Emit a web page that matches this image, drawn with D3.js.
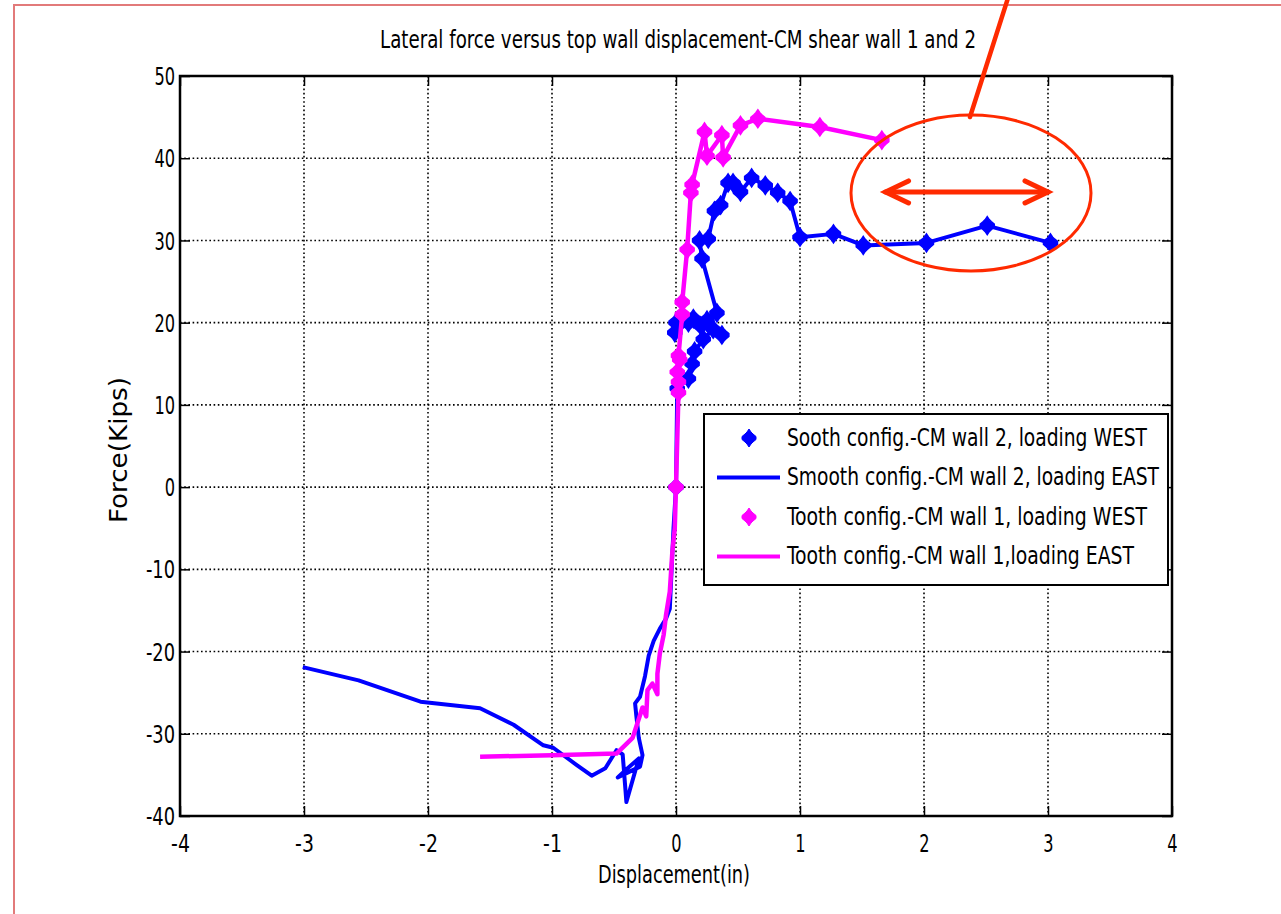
<!DOCTYPE html>
<html>
<head>
<meta charset="utf-8">
<script src="https://cdn.jsdelivr.net/npm/d3@7"></script>
<style>
  body { margin: 0; background: #fff; }
  svg { display: block; }
  text { font-family: "Liberation Sans Narrow", "Arial Narrow", "DejaVu Sans Condensed", sans-serif; fill: #000; }
</style>
</head>
<body>
<script>
// Axis ticks
const xTicks = [-4, -3, -2, -1, 0, 1, 2, 3, 4];
const yTicks = [-40, -30, -20, -10, 0, 10, 20, 30, 40, 50];

// Wall 2 (smooth configuration), loading WEST: [displacement in, force kips]
const wall2West = [
  [0.00, 0.0], [0.01, 12.0], [0.10, 13.2], [0.13, 15.0], [0.15, 16.5], [0.22, 18.0],
  [0.30, 19.2], [0.37, 18.5], [0.20, 19.6], [0.14, 20.5], [0.00, 20.0], [-0.01, 18.8],
  [0.10, 20.0], [0.25, 20.3], [0.33, 21.2], [0.21, 27.8], [0.19, 30.0], [0.26, 30.2],
  [0.31, 33.6], [0.36, 34.3], [0.42, 37.0], [0.46, 37.0], [0.52, 35.9], [0.61, 37.6],
  [0.72, 36.7], [0.82, 35.8], [0.92, 34.8], [1.00, 30.4], [1.27, 30.8], [1.51, 29.4],
  [2.02, 29.7], [2.51, 31.8], [3.02, 29.7]
];

// Wall 2 (smooth configuration), loading EAST
const wall2East = [
  [0.00, 0.0], [-0.02, -5.0], [-0.05, -14.8], [-0.08, -16.0], [-0.13, -17.2], [-0.18, -18.7],
  [-0.22, -20.5], [-0.25, -23.0], [-0.29, -25.5], [-0.33, -26.3], [-0.32, -27.8], [-0.30, -30.5],
  [-0.27, -32.6], [-0.29, -34.0], [-0.47, -35.3], [-0.42, -34.6], [-0.30, -33.0], [-0.40, -38.3],
  [-0.43, -32.5], [-0.48, -32.0], [-0.57, -34.2], [-0.68, -35.1], [-0.80, -33.8], [-0.99, -31.7],
  [-1.07, -31.4], [-1.31, -28.9], [-1.58, -26.9], [-2.06, -26.1], [-2.56, -23.5], [-3.01, -21.9]
];

// Wall 1 (tooth configuration), loading WEST
const wall1West = [
  [0.00, 0.0], [0.02, 11.5], [0.02, 12.8], [0.01, 14.0], [0.03, 15.5], [0.02, 16.0],
  [0.05, 21.0], [0.05, 22.5], [0.09, 28.9], [0.12, 35.8], [0.13, 36.8], [0.23, 43.2],
  [0.25, 40.3], [0.37, 42.8], [0.38, 40.1], [0.52, 44.0], [0.66, 44.8], [1.16, 43.8],
  [1.66, 42.2]
];

// Wall 1 (tooth configuration), loading EAST
const wall1East = [
  [0.00, 0.0], [-0.01, -5.0], [-0.03, -8.0], [-0.05, -12.7], [-0.08, -15.5], [-0.10, -18.0],
  [-0.13, -20.2], [-0.15, -22.7], [-0.15, -25.2], [-0.19, -23.9], [-0.23, -24.7], [-0.24, -27.9],
  [-0.27, -26.8], [-0.35, -30.5], [-0.48, -32.4], [-1.00, -32.6], [-1.58, -32.8]
];

const legendLabels = [
  "Sooth config.-CM wall 2, loading WEST",
  "Smooth config.-CM wall 2, loading EAST",
  "Tooth config.-CM wall 1, loading WEST",
  "Tooth config.-CM wall 1,loading EAST"
];

const BLUE = "#0000ff";
const MAGENTA = "#ff00ff";
const RED = "#ff2a00";

const W = 1281, H = 914;
const plot = { left: 180, right: 1172, top: 76, bottom: 816 };

const svg = d3.select("body").append("svg").attr("width", W).attr("height", H);

// page frame
svg.append("path")
  .attr("d", `M${W},5 H14 V${H}`)
  .attr("fill", "none").attr("stroke", "#e27a7a").attr("stroke-width", 2);

const x = d3.scaleLinear().domain([-4, 4]).range([plot.left, plot.right]);
const y = d3.scaleLinear().domain([-40, 50]).range([plot.bottom, plot.top]);

// dotted grid
const grid = svg.append("g").attr("stroke", "#000").attr("stroke-width", 1.6).attr("stroke-dasharray", "1.6,2.6");
grid.selectAll(".gx").data(xTicks.slice(1, -1)).join("line")
  .attr("x1", d => x(d)).attr("x2", d => x(d)).attr("y1", plot.top).attr("y2", plot.bottom);
grid.selectAll(".gy").data(yTicks.slice(1, -1)).join("line")
  .attr("y1", d => y(d)).attr("y2", d => y(d)).attr("x1", plot.left).attr("x2", plot.right);

// axes with inward ticks
const fmt = d => (d < 0 ? "-" : "") + Math.abs(d);
function labelWidth(s) { let w = 0; for (const c of s) w += c === "-" ? 8.5 : 10.3; return w; }

const xBottom = svg.append("g").attr("transform", `translate(0,${plot.bottom})`)
  .call(d3.axisBottom(x).tickValues(xTicks).tickFormat(fmt).tickSizeInner(-10).tickSizeOuter(0).tickPadding(19));
const xTop = svg.append("g").attr("transform", `translate(0,${plot.top})`)
  .call(d3.axisTop(x).tickValues(xTicks).tickFormat("").tickSizeInner(-10).tickSizeOuter(0));
const yLeft = svg.append("g").attr("transform", `translate(${plot.left},0)`)
  .call(d3.axisLeft(y).tickValues(yTicks).tickFormat(fmt).tickSizeInner(-10).tickSizeOuter(0).tickPadding(-5));
const yRight = svg.append("g").attr("transform", `translate(${plot.right},0)`)
  .call(d3.axisRight(y).tickValues(yTicks).tickFormat("").tickSizeInner(-10).tickSizeOuter(0));

[xBottom, xTop, yLeft, yRight].forEach(g => {
  g.select(".domain").remove();
  g.selectAll(".tick line").attr("stroke", "#000").attr("stroke-width", 1.5);
});
[xBottom, yLeft].forEach(g => {
  g.selectAll(".tick text")
    .attr("font-size", 24)
    .attr("font-family", null)
    .attr("fill", "#000")
    .attr("lengthAdjust", "spacingAndGlyphs")
    .attr("textLength", d => labelWidth(fmt(d)));
});
yLeft.selectAll(".tick text").attr("x", -5).attr("dy", "0.36em");
xBottom.selectAll(".tick text").attr("dy", "0.72em");

// plot box
svg.append("rect")
  .attr("x", plot.left).attr("y", plot.top)
  .attr("width", plot.right - plot.left).attr("height", plot.bottom - plot.top)
  .attr("fill", "none").attr("stroke", "#000").attr("stroke-width", 2.5);

// titles
svg.append("text").attr("x", 678).attr("y", 48).attr("text-anchor", "middle")
  .attr("font-size", 25).attr("textLength", 596).attr("lengthAdjust", "spacingAndGlyphs")
  .text("Lateral force versus top wall displacement-CM shear wall 1 and 2");
svg.append("text").attr("x", 674).attr("y", 883).attr("text-anchor", "middle")
  .attr("font-size", 25).attr("textLength", 152).attr("lengthAdjust", "spacingAndGlyphs")
  .text("Displacement(in)");
svg.append("text").attr("transform", "translate(127,450) rotate(-90)").attr("text-anchor", "middle")
  .attr("font-size", 25).attr("textLength", 146).attr("lengthAdjust", "spacingAndGlyphs")
  .text("Force(Kips)");

// data
const line = d3.line().x(d => x(d[0])).y(d => y(d[1]));
const marker = "M0,-9 L2,-6 L4,-4 L7,-1.5 V1.5 L4,4 L2,6 L0,9 L-2,6 L-4,4 L-7,1.5 V-1.5 L-4,-4 L-2,-6 Z";

function drawSeries(data, color, withMarkers, width) {
  svg.append("path").datum(data).attr("d", line)
    .attr("fill", "none").attr("stroke", color).attr("stroke-width", width)
    .attr("stroke-linejoin", "round");
  if (withMarkers) {
    svg.append("g").selectAll("path").data(data).join("path")
      .attr("d", marker)
      .attr("transform", d => `translate(${x(d[0])},${y(d[1])})`)
      .attr("fill", color).attr("stroke", color).attr("stroke-width", 1.5);
  }
}
drawSeries(wall2East, BLUE, false, 4);
drawSeries(wall2West, BLUE, true, 4);
drawSeries(wall1East, MAGENTA, false, 4.5);
drawSeries(wall1West, MAGENTA, true, 4.5);

// legend
const lg = svg.append("g");
lg.append("rect").attr("x", 704).attr("y", 414).attr("width", 464).attr("height", 171)
  .attr("fill", "#fff").attr("stroke", "#000").attr("stroke-width", 2);
const legendItems = [
  { color: BLUE, marker: true }, { color: BLUE, marker: false },
  { color: MAGENTA, marker: true }, { color: MAGENTA, marker: false }
];
const legendWidths = [360, 372, 360, 347];
legendItems.forEach((it, i) => {
  const cy = 438 + i * 39.5;
  if (it.marker) {
    lg.append("path").attr("d", marker).attr("transform", `translate(749,${cy})`)
      .attr("fill", it.color).attr("stroke", it.color);
  } else {
    lg.append("line").attr("x1", 717).attr("x2", 780).attr("y1", cy).attr("y2", cy)
      .attr("stroke", it.color).attr("stroke-width", 4);
  }
  lg.append("text").attr("x", 787).attr("y", cy + 7.5).attr("font-size", 25)
    .attr("textLength", legendWidths[i]).attr("lengthAdjust", "spacingAndGlyphs")
    .text(legendLabels[i]);
});

// annotation: callout ellipse with double arrow over the plateau
const ann = svg.append("g").attr("stroke", RED).attr("fill", "none").attr("stroke-linecap", "round");
ann.append("line").attr("x1", 1008).attr("y1", -2).attr("x2", 970).attr("y2", 117).attr("stroke-width", 4.5);
ann.append("ellipse").attr("cx", 971).attr("cy", 193).attr("rx", 120).attr("ry", 78).attr("stroke-width", 3);
const ay = y(35.9), ax1 = x(1.69), ax2 = x(3.0);
ann.append("line").attr("x1", ax1).attr("x2", ax2).attr("y1", ay).attr("y2", ay).attr("stroke-width", 5);
ann.append("path").attr("d", `M${ax1 + 23},${ay - 11} L${ax1},${ay} L${ax1 + 23},${ay + 11}`)
  .attr("stroke-width", 5).attr("stroke-linejoin", "miter");
ann.append("path").attr("d", `M${ax2 - 23},${ay - 11} L${ax2},${ay} L${ax2 - 23},${ay + 11}`)
  .attr("stroke-width", 5).attr("stroke-linejoin", "miter");
</script>
</body>
</html>
